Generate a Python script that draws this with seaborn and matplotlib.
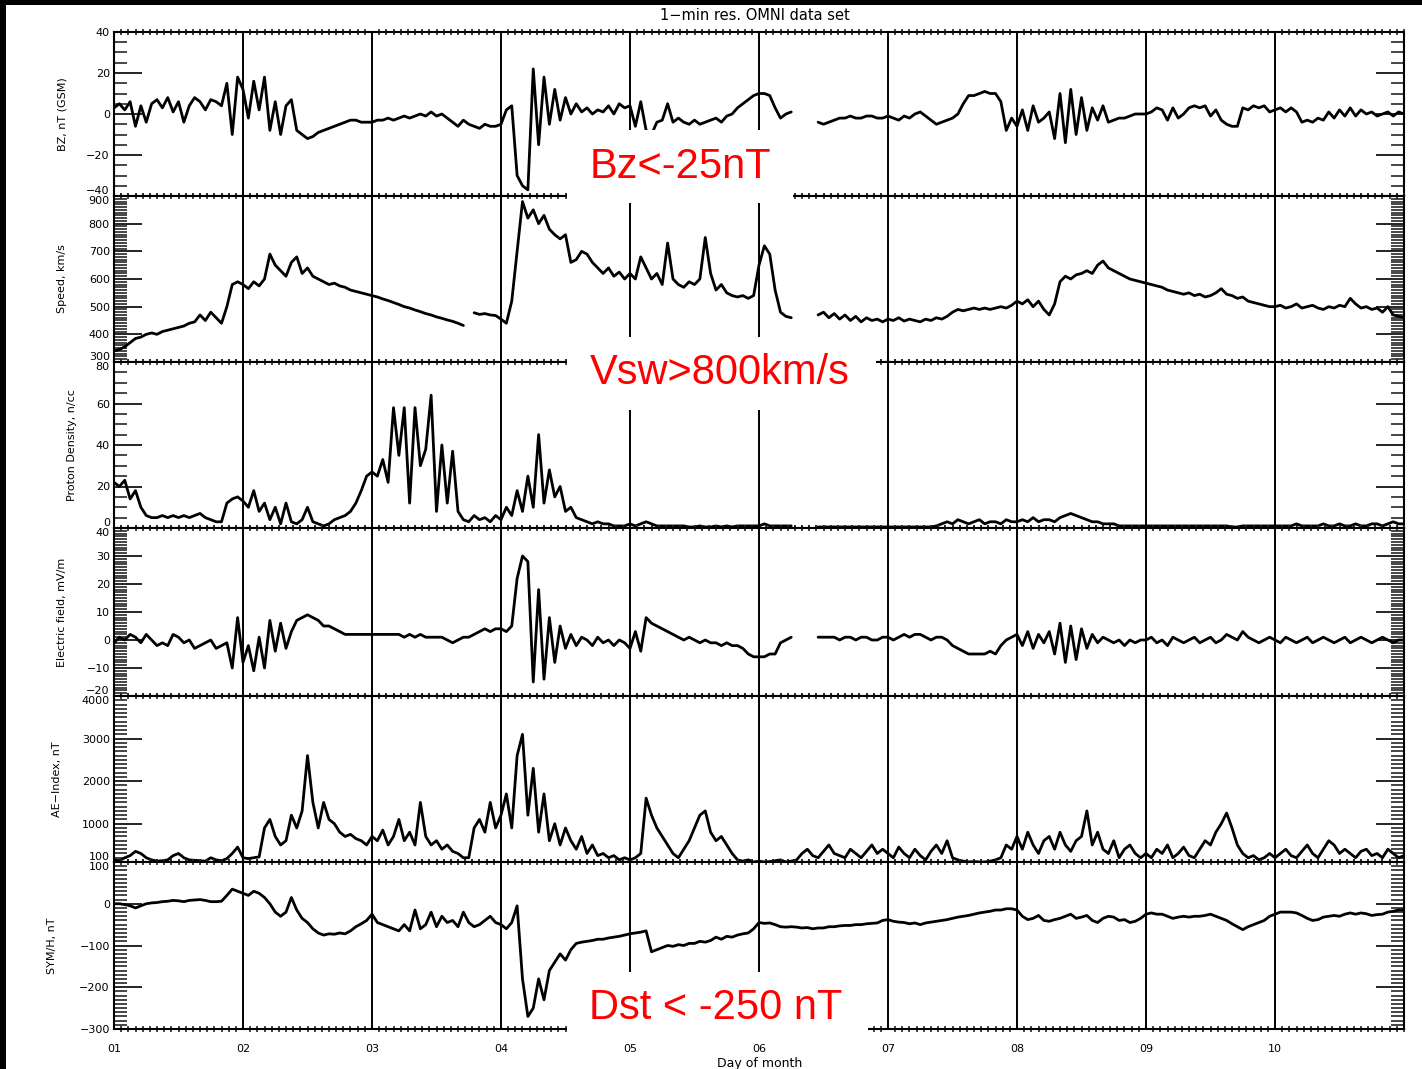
import numpy as np
import pandas as pd
import matplotlib
matplotlib.use("Agg")
import matplotlib.pyplot as plt
import seaborn as sns
from matplotlib.patches import Rectangle
from matplotlib.ticker import MultipleLocator, FixedLocator

nan = np.nan

# ---------------- data (hourly samples, day 01 00h .. day 11 00h)
bz = [
    3, 5, 2, 6, -6, 4, -4, 5, 7, 3, 8, 1, 6, -4, 4, 8, 6, 2, 7, 6, 4, 15, -10, 18,          # 01
    12, -2, 16, 2, 18, -8, 6, -10, 4, 7, -8, -10, -12, -11, -9, -8, -7, -6, -5, -4, -3, -3, -4, -4,  # 02
    -4, -3, -3, -2, -3, -2, -1, -2, -1, 0, -1, 1, -1, 0, -2, -4, -6, -3, -5, -6, -7, -5, -6, -6,  # 03
    -5, 2, 4, -30, -35, -37, 22, -15, 18, -5, 12, -3, 8, 0, 5, 1, 3, 0, 2, 1, 4, 0, 5, 3,   # 04
    4, -6, 6, -8, -10, -4, -3, 5, -4, -2, -4, -5, -3, -5, -4, -3, -2, -4, -1, 0, 3, 5, 7, 9,  # 05
    10, 10, 9, 3, -2, 0, 1, nan, nan, nan, nan, -4, -5, -4, -3, -2, -2, -1, -2, -2, -1, -1, -2, -2,  # 06
    -1, -2, -3, -1, -2, 0, 1, -1, -3, -5, -4, -3, -2, 0, 5, 9, 9, 10, 11, 10, 10, 6, -8, -2,  # 07
    -6, 2, -8, 4, -4, -2, 1, -12, 10, -14, 12, -10, 8, -8, 3, -3, 4, -4, -3, -2, -2, -1, 0, 0,  # 08
    0, 1, 3, 2, -3, 3, -2, 0, 3, 4, 3, 4, -1, 2, -3, -5, -6, -6, 3, 2, 4, 3, 4, 1,          # 09
    2, 3, 1, 3, 1, -4, -3, -4, -2, -3, 1, -2, 2, -1, 3, -1, 2, 0, 1, -1, 0, 1, -1, 1,       # 10
    0]

speed = [
    340, 345, 355, 370, 385, 390, 400, 405, 400, 410, 415, 420, 425, 430, 440, 445, 470, 450, 480, 460, 440, 500, 580, 590,
    580, 565, 590, 575, 600, 690, 650, 630, 610, 660, 680, 620, 640, 610, 600, 590, 580, 585, 575, 570, 560, 555, 550, 545,
    540, 535, 528, 522, 515, 508, 500, 495, 488, 482, 475, 470, 463, 458, 452, 447, 440, 432, nan, 478, 472, 475, 470, 468,
    455, 440, 520, 700, 880, 820, 850, 800, 830, 780, 760, 745, 760, 660, 670, 700, 690, 660, 640, 620, 640, 610, 625, 600,
    620, 600, 680, 640, 600, 620, 580, 730, 600, 580, 570, 590, 580, 600, 750, 620, 560, 580, 550, 540, 535, 540, 530, 540,
    650, 720, 690, 560, 480, 465, 460, nan, nan, nan, nan, 470, 480, 460, 475, 455, 470, 450, 465, 445, 460, 450, 455, 445,
    455, 450, 460, 448, 455, 450, 445, 455, 450, 460, 455, 465, 480, 490, 485, 490, 495, 490, 495, 490, 495, 500, 495, 505,
    520, 510, 525, 500, 520, 490, 470, 510, 590, 610, 600, 615, 620, 630, 620, 650, 665, 640, 630, 620, 610, 600, 595, 590,
    585, 580, 575, 570, 560, 555, 550, 545, 550, 540, 545, 535, 540, 550, 565, 545, 540, 530, 535, 520, 515, 510, 505, 500,
    500, 505, 495, 500, 510, 495, 500, 505, 495, 490, 500, 495, 505, 500, 530, 510, 495, 500, 490, 495, 480, 500, 470, 465,
    460]

density = [
    22, 20, 23, 14, 18, 10, 6, 5, 5, 6, 5, 6, 5, 6, 5, 6, 7, 5, 4, 3, 3, 12, 14, 15,
    13, 10, 18, 8, 12, 4, 10, 2, 12, 3, 2, 4, 10, 3, 2, 1, 2, 4, 5, 6, 8, 12, 18, 25,
    27, 25, 33, 22, 58, 35, 58, 12, 58, 30, 38, 64, 8, 40, 12, 37, 8, 4, 3, 6, 4, 5, 3, 6,
    4, 10, 6, 18, 8, 25, 10, 45, 12, 28, 15, 20, 8, 10, 5, 4, 3, 2, 3, 2, 2, 1, 1, 1,
    2, 1, 2, 3, 2, 1, 1, 1, 1, 1, 1, 0.5, 0.5, 1, 0.5, 0.5, 1, 0.5, 1, 0.5, 1, 1, 1, 1,
    1, 2, 1, 1, 1, 1, 1, nan, nan, nan, nan, 0.5, 0.5, 0.5, 0.5, 0.5, 0.5, 0.5, 0.5, 0.5, 0.5, 0.5, 0.5, 0.5,
    0.5, 0.5, 0.5, 0.5, 0.5, 0.5, 0.5, 0.5, 0.5, 1, 2, 3, 2, 4, 3, 2, 3, 4, 2, 3, 3, 2, 4, 3,
    3, 4, 3, 5, 3, 4, 4, 3, 5, 6, 7, 6, 5, 4, 3, 3, 2, 2, 2, 1, 1, 1, 1, 1,
    1, 1, 1, 1, 1, 1, 1, 1, 1, 1, 1, 1, 1, 1, 1, 1, 0.5, 0.5, 1, 1, 1, 1, 1, 1,
    1, 1, 1, 1, 2, 1, 1, 1, 1, 2, 1, 1, 2, 1, 1, 2, 1, 1, 2, 2, 1, 2, 3, 2,
    2]

efield = [
    -1, 1, 0, 2, 1, -1, 2, 0, -2, -1, -2, 2, 1, -1, 0, -3, -2, -1, 0, -3, -2, -1, -10, 8,
    -8, -2, -11, 1, -10, 7, -4, 6, -3, 3, 7, 8, 9, 8, 7, 5, 5, 4, 3, 2, 2, 2, 2, 2,
    2, 2, 2, 2, 2, 2, 1, 2, 1, 2, 1, 1, 1, 1, 0, -1, 0, 1, 1, 2, 3, 4, 3, 4,
    4, 3, 5, 22, 30, 28, -15, 18, -14, 8, -8, 5, -3, 2, -2, 1, 0, -2, 1, -1, 0, -2, 0, -1,
    -3, 3, -4, 8, 6, 5, 4, 3, 2, 1, 0, 1, 0, -1, 0, -1, -1, -2, -1, -2, -2, -3, -5, -6,
    -6, -6, -5, -5, -1, 0, 1, nan, nan, nan, nan, 1, 1, 1, 1, 0, 1, 1, 0, 1, 1, 0, 0, 1,
    1, 0, 1, 2, 1, 2, 2, 1, 0, 1, 1, 0, -2, -3, -4, -5, -5, -5, -5, -4, -5, -2, 0, 1,
    2, -2, 3, -3, 2, -1, 3, -5, 6, -8, 5, -7, 4, -3, 2, -1, 1, 0, -1, 0, -2, 0, -1, 0,
    0, 1, -1, 0, -2, 1, 0, -1, 0, 1, -1, 0, 1, -1, 0, 2, 1, 0, 3, 1, 0, -1, 0, 1,
    0, -1, 1, 0, -1, 0, 1, -1, 0, 1, 0, -1, 0, 1, -1, 0, 1, 0, -1, 0, 1, 0, -1, 0,
    0]

ae = [
    150, 130, 200, 250, 350, 300, 200, 150, 120, 130, 150, 250, 300, 200, 150, 140, 130, 120, 200, 150, 130, 180, 300, 450,
    200, 180, 200, 220, 900, 1100, 700, 500, 600, 1200, 900, 1300, 2600, 1500, 900, 1500, 1100, 1000, 800, 700, 750, 650, 600, 500,
    700, 600, 850, 500, 700, 1100, 600, 800, 500, 1500, 700, 500, 600, 400, 500, 350, 300, 200, 200, 900, 1100, 800, 1500, 900,
    1200, 1700, 900, 2600, 3100, 1200, 2300, 800, 1700, 600, 1000, 500, 900, 600, 400, 700, 300, 500, 250, 300, 200, 250, 150, 200,
    150, 200, 300, 1600, 1200, 900, 700, 500, 300, 200, 400, 600, 900, 1200, 1300, 800, 600, 700, 500, 300, 150, 120, 150, 100,
    120, 100, 110, 130, 150, 100, 120, 150, 300, 400, 250, 200, 350, 500, 300, 250, 200, 400, 300, 200, 350, 500, 300, 400,
    300, 200, 450, 300, 200, 400, 250, 150, 350, 500, 300, 600, 200, 150, 120, 100, 110, 100, 100, 120, 150, 200, 500, 400,
    700, 400, 800, 500, 300, 600, 700, 400, 800, 500, 350, 600, 700, 1300, 500, 800, 400, 300, 600, 200, 400, 500, 300, 200,
    300, 200, 400, 300, 500, 200, 300, 450, 250, 200, 400, 600, 500, 800, 1000, 1250, 900, 500, 300, 200, 250, 150, 200, 300,
    200, 300, 400, 250, 200, 350, 500, 300, 200, 400, 600, 500, 300, 400, 300, 200, 350, 400, 250, 300, 200, 400, 300, 200,
    250]

symh = [
    0, 0, -2, -5, -10, -5, 0, 2, 3, 5, 6, 8, 7, 5, 8, 9, 10, 8, 5, 5, 6, 20, 35, 30,
    25, 20, 30, 25, 15, 0, -20, -30, -20, 15, -15, -35, -45, -60, -70, -75, -72, -73, -70, -72, -65, -55, -48, -40,
    -25, -45, -50, -55, -60, -65, -50, -65, -15, -60, -50, -20, -55, -30, -45, -40, -55, -20, -45, -55, -50, -40, -30, -45,
    -50, -60, -45, -5, -180, -270, -250, -180, -230, -160, -140, -120, -135, -110, -95, -92, -90, -88, -85, -85, -82, -80, -78, -75,
    -72, -70, -68, -65, -115, -110, -105, -100, -102, -98, -100, -95, -95, -90, -92, -88, -80, -85, -78, -80, -75, -72, -70, -60,
    -45, -47, -46, -50, -55, -56, -55, -56, -58, -57, -60, -58, -58, -55, -55, -53, -52, -52, -50, -50, -48, -47, -46, -40,
    -38, -42, -44, -45, -48, -46, -50, -46, -44, -42, -40, -38, -35, -32, -30, -28, -25, -22, -20, -18, -15, -15, -12, -12,
    -15, -30, -38, -35, -28, -40, -42, -38, -35, -30, -25, -35, -32, -28, -40, -45, -35, -30, -32, -40, -38, -45, -42, -35,
    -25, -22, -25, -25, -30, -35, -32, -30, -32, -30, -30, -28, -25, -30, -35, -40, -48, -55, -62, -55, -50, -45, -40, -30,
    -25, -20, -20, -20, -22, -28, -35, -40, -38, -32, -30, -28, -30, -25, -22, -25, -22, -24, -28, -26, -25, -20, -18, -15,
    -15]

day_labels = ["01", "02", "03", "04", "05", "06", "07", "08", "09", "10"]
ylabels = ["BZ, nT (GSM)", "Speed, km/s", "Proton Density, n/cc",
           "Electric field, mV/m", "AE\u2212Index, nT", "SYM/H, nT"]

hours = np.arange(len(bz))
t_days = 1 + hours / 24.0

# ---------------- figure
sns.set_theme(style="white")
plt.rcParams["font.family"] = ["DejaVu Sans"]
plt.rcParams["axes.edgecolor"] = "black"

W, H = 1422, 1069
fig = plt.figure(figsize=(W / 100, H / 100), dpi=100)
fig.patch.set_facecolor("white")


def fx(px):
    return px / W


def fy(py):
    return 1 - py / H


edges = [32, 196, 362, 528, 696, 862, 1029]
x0, x1 = 114, 1404

panels = [
    (bz, (-40, 40), [-40, -20, 0, 20, 40], 5, 62),
    (speed, (300, 900), [300, 400, 500, 600, 700, 800, 900], 10, 62),
    (density, (0, 80), [0, 20, 40, 60, 80], 5, 72),
    (efield, (-20, 40), [-20, -10, 0, 10, 20, 30, 40], 1, 62),
    (ae, (100, 4000), [100, 1000, 2000, 3000, 4000], 100, 57),
    (symh, (-300, 100), [-300, -200, -100, 0, 100], 10, 52),
]

for i, (vals, ylim, majors, mstep, labx) in enumerate(panels):
    top, bot = edges[i], edges[i + 1]
    ax = fig.add_axes([fx(x0), fy(bot), fx(x1 - x0), (bot - top) / H])
    ax.set_facecolor("white")
    df = pd.DataFrame({"t": t_days, "v": np.array(vals, dtype=float)})
    df["seg"] = df["v"].isna().cumsum()
    df = df.dropna()
    sns.lineplot(data=df, x="t", y="v", units="seg", estimator=None, sort=False,
                 color="black", lw=2.0, ax=ax, legend=False)
    for d in range(2, 11):
        ax.axvline(d, color="black", lw=1.4, zorder=1)
    ax.set_xlim(1, 11)
    ax.set_ylim(*ylim)
    for sp in ax.spines.values():
        sp.set_linewidth(1.5)
        sp.set_color("black")
        sp.set_visible(True)
    ax.yaxis.set_major_locator(FixedLocator(majors))
    ax.yaxis.set_minor_locator(MultipleLocator(mstep))
    ax.xaxis.set_major_locator(FixedLocator(list(range(1, 11))))
    ax.xaxis.set_minor_locator(MultipleLocator(1 / 18))
    ax.tick_params(axis="y", which="major", direction="in", length=20, width=1.2,
                   left=True, right=True, labelsize=8, pad=3, colors="black")
    ax.tick_params(axis="y", which="minor", direction="in", length=9.5, width=1.2,
                   left=True, right=True)
    ax.tick_params(axis="x", which="minor", direction="inout", length=4, width=1.2,
                   top=True, bottom=True)
    ax.tick_params(axis="x", which="major", length=0, labelbottom=(i == 5),
                   labelsize=8, pad=11, colors="black")
    if i == 5:
        ax.set_xticklabels(day_labels)
    # keep the labels on shared panel borders from sitting on top of each other
    yt = ax.yaxis.get_major_ticks()
    if i < 5:
        yt[0].label1.set_verticalalignment("bottom")
    if i > 0:
        yt[-1].label1.set_verticalalignment("top")
    ax.set_xlabel("")
    ax.set_ylabel(ylabels[i], fontsize=8, color="black")
    ax.yaxis.set_label_coords((labx + 5 - x0) / (x1 - x0), 0.5)

# title and x label
fig.text(fx(755), fy(16), "1\u2212min res. OMNI data set", fontsize=10.5,
         ha="center", va="center", color="black")
fig.text(fx(760), fy(1063), "Day of month", fontsize=9, ha="center", va="center",
         color="black")

# white annotation boxes with red text
boxes = [(567, 130, 793, 203), (567, 337, 876, 410), (567, 972, 868, 1043)]
for (bx0, by0, bx1, by1) in boxes:
    fig.add_artist(Rectangle((fx(bx0), fy(by1)), fx(bx1 - bx0), (by1 - by0) / H,
                             transform=fig.transFigure, facecolor="white",
                             edgecolor="none", zorder=10))
notes = [("Bz<-25nT", 680, 167), ("Vsw>800km/s", 720, 373), ("Dst < -250 nT", 716, 1008)]
for txt, cx, cy in notes:
    fig.text(fx(cx), fy(cy), txt, color="red", fontsize=30, family="Liberation Sans",
             ha="center", va="center", zorder=11)

# black frame bands (top, left)
fig.add_artist(Rectangle((0, fy(5)), 1, 5 / H, transform=fig.transFigure,
                         facecolor="black", edgecolor="none", zorder=12))
fig.add_artist(Rectangle((0, 0), 6 / W, 1, transform=fig.transFigure,
                         facecolor="black", edgecolor="none", zorder=12))

fig.savefig("out.png", dpi=100)
